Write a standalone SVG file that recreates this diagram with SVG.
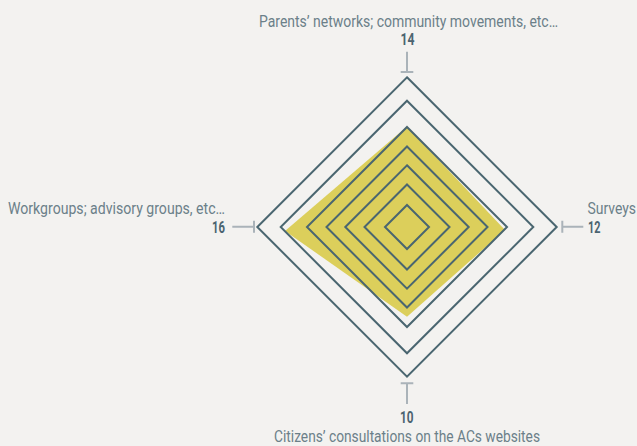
<svg xmlns="http://www.w3.org/2000/svg" width="637" height="446" viewBox="0 0 637 446">
<style>
.lbl{font-family:Roboto,"Liberation Sans",sans-serif;font-size:16px;fill:#6b8089}
.num{font-family:Roboto,"Liberation Sans",sans-serif;font-size:17px;font-weight:bold;fill:#4b6470}
.ring{fill:none;stroke:#4a6670;stroke-width:2}
.tick{fill:none;stroke:#aab3b9;stroke-width:2}
</style>
<rect width="637" height="446" fill="#f3f2f0"/>
<g id="area">
<polygon points="407,126.5 505,230 407,316.7 285,231" fill="#dccf5b"/>
</g>
<g id="grid">
<polygon class="ring" points="407,77.3 556.7,227 407,376.7 257.3,227"/>
<polygon class="ring" points="407,100.7 533.3,227 407,353.3 280.7,227"/>
<polygon class="ring" points="407,127 507,227 407,327 307,227"/>
<polygon class="ring" points="407,146.5 487.5,227 407,307.5 326.5,227"/>
<polygon class="ring" points="407,165.3 468.7,227 407,288.7 345.3,227"/>
<polygon class="ring" points="407,184.5 449.5,227 407,269.5 364.5,227"/>
<polygon class="ring" points="407,205 429,227 407,249 385,227"/>
</g>
<g id="connectors">
<path class="tick" d="M407,51.7V72M400.7,72H413.3"/>
<path class="tick" d="M407,404V383.3M400.7,383.3H413.3"/>
<path class="tick" d="M232.3,226.7H254M254,220.7V232.7"/>
<path class="tick" d="M583.3,226.7H562.3M562.3,220.7V232.7"/>
</g>
<g id="node-top">
<text class="lbl" x="259" y="26.5" textLength="299" lengthAdjust="spacingAndGlyphs">Parents’ networks; community movements, etc…</text>
<text class="num" x="400.5" y="44.5" textLength="14" lengthAdjust="spacingAndGlyphs">14</text>
</g>
<g id="node-left">
<text class="lbl" x="8" y="214" textLength="217" lengthAdjust="spacingAndGlyphs">Workgroups; advisory groups, etc…</text>
<text class="num" x="212" y="232.7" textLength="13" lengthAdjust="spacingAndGlyphs">16</text>
</g>
<g id="node-right">
<text class="lbl" x="587.5" y="214" textLength="48.5" lengthAdjust="spacingAndGlyphs">Surveys</text>
<text class="num" x="588" y="232.7" textLength="12.5" lengthAdjust="spacingAndGlyphs">12</text>
</g>
<g id="node-bottom">
<text class="num" x="400" y="423.3" textLength="13.5" lengthAdjust="spacingAndGlyphs">10</text>
<text class="lbl" x="274" y="441.7" textLength="266" lengthAdjust="spacingAndGlyphs">Citizens’ consultations on the ACs websites</text>
</g>
</svg>
